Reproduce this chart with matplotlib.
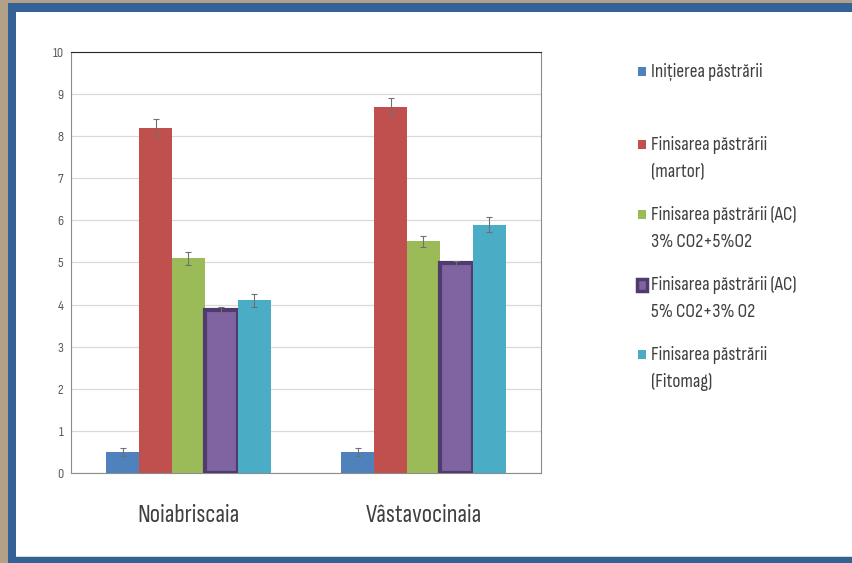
import matplotlib.pyplot as plt
import numpy as np
from matplotlib.patches import Rectangle

plt.rcParams['font.family'] = ['Sofia Sans Condensed', 'Carlito', 'DejaVu Sans']

categories = ["Noiabriscaia", "Vâstavocinaia"]
series = [
    ["Inițierea păstrării"],
    ["Finisarea păstrării", "(martor)"],
    ["Finisarea păstrării (AC)", "3% CO2+5%O2"],
    ["Finisarea păstrării (AC)", "5% CO2+3% O2"],
    ["Finisarea păstrării", "(Fitomag)"],
]
values = [
    [0.5, 0.5],
    [8.2, 8.7],
    [5.1, 5.5],
    [3.87, 4.98],
    [4.1, 5.9],
]
errors = [
    [0.1, 0.1],
    [0.2, 0.2],
    [0.15, 0.13],
    [0.08, 0.06],
    [0.16, 0.17],
]
colors = ["#4f81bd", "#c0504d", "#9bbb59", "#8064a2", "#4bacc6"]
edge_colors = [None, None, None, "#4f3b6e", None]

W, H = 853, 563
fig = plt.figure(figsize=(W / 100, H / 100), dpi=100)
fig.patch.set_facecolor("#b2a188")

# slide frame
fig.add_artist(Rectangle((8 / W, 0), 1, 1 - 3 / H, transform=fig.transFigure,
                         facecolor="#356296", edgecolor="none", zorder=0))
fig.add_artist(Rectangle((16 / W, 6 / H), 1, (H - 12 - 6) / H, transform=fig.transFigure,
                         facecolor="#d9d9d9", edgecolor="none", zorder=0))
fig.add_artist(Rectangle((16 / W, 7 / H), 1, (H - 12 - 7) / H, transform=fig.transFigure,
                         facecolor="white", edgecolor="none", zorder=0))

ax = fig.add_axes([71 / W, 1 - 473 / H, 470 / W, 421 / H])
ax.set_facecolor("white")

x = np.arange(len(categories))
n = len(series)
width = 0.14
for i in range(n):
    pos = x + (i - (n - 1) / 2) * width
    if edge_colors[i]:
        ax.bar(pos, values[i], width, color=colors[i], edgecolor=edge_colors[i],
               linewidth=3, zorder=3)
    else:
        ax.bar(pos, values[i], width, color=colors[i], edgecolor="none", zorder=3)
    ax.errorbar(pos, values[i], yerr=errors[i], fmt="none", ecolor="#707070",
                elinewidth=0.8, capsize=2.5, capthick=0.8, zorder=4)

ax.set_xlim(-0.5, 1.5)
ax.set_ylim(0, 10)
ax.set_yticks(range(0, 11))
ax.tick_params(axis="y", length=0, labelsize=10, labelcolor="#595959", pad=5.5)
ax.set_xticks(x)
ax.set_xticklabels(categories, fontsize=18, color="#404040")
ax.tick_params(axis="x", length=0, pad=22)
ax.grid(axis="y", color="#d9d9d9", linewidth=0.9, zorder=0)
ax.set_axisbelow(True)
for side in ["left", "right", "bottom"]:
    ax.spines[side].set_color("#8c8c8c")
ax.spines["top"].set_color("#262626")

# legend
legend_y = [72, 145, 215, 285, 355]
for i in range(n):
    y = legend_y[i]
    if edge_colors[i]:
        fig.add_artist(Rectangle((637 / W, 1 - (y + 6) / H), 10 / W, 12 / H,
                                 transform=fig.transFigure, facecolor=colors[i],
                                 edgecolor=edge_colors[i], linewidth=2.5))
    else:
        fig.add_artist(Rectangle((638 / W, 1 - (y + 4) / H), 8 / W, 9 / H,
                                 transform=fig.transFigure, facecolor=colors[i],
                                 edgecolor="none"))
    for k, line in enumerate(series[i]):
        fig.text(651 / W, 1 - (y + 27 * k) / H, line, fontsize=14, color="#404040",
                 va="center", ha="left")

fig.savefig("out.png", dpi=100, facecolor=fig.get_facecolor())
